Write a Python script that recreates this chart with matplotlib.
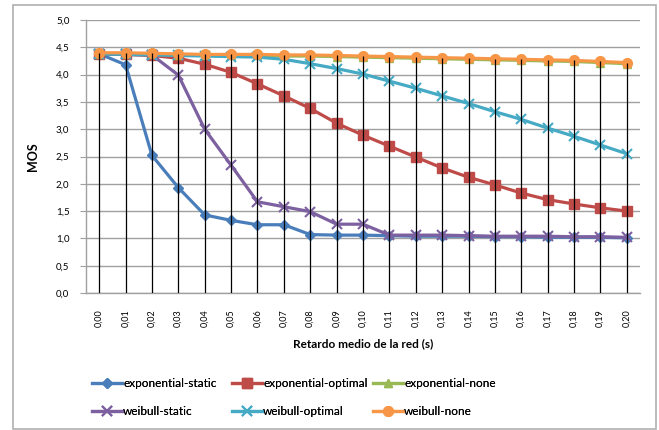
import numpy as np
import matplotlib
matplotlib.use("Agg")
import matplotlib.pyplot as plt
from matplotlib.patches import Rectangle
from matplotlib.ticker import FuncFormatter

plt.rcParams["font.family"] = ["Lato", "DejaVu Sans"]

delays = ["0,00", "0,01", "0,02", "0,03", "0,04", "0,05", "0,06", "0,07", "0,08", "0,09", "0,10",
          "0,11", "0,12", "0,13", "0,14", "0,15", "0,16", "0,17", "0,18", "0,19", "0,20"]

exp_static = [4.38, 4.18, 2.52, 1.93, 1.43, 1.33, 1.25, 1.25, 1.07, 1.06, 1.06,
              1.05, 1.04, 1.04, 1.04, 1.03, 1.03, 1.02, 1.02, 1.02, 1.01]
exp_optimal = [4.38, 4.37, 4.35, 4.30, 4.19, 4.04, 3.83, 3.61, 3.38, 3.11, 2.89,
               2.69, 2.49, 2.29, 2.12, 1.98, 1.83, 1.71, 1.63, 1.56, 1.50]
exp_none = [4.38, 4.38, 4.37, 4.36, 4.35, 4.35, 4.35, 4.34, 4.34, 4.33, 4.32,
            4.31, 4.30, 4.29, 4.28, 4.27, 4.26, 4.25, 4.24, 4.22, 4.20]
wei_static = [4.38, 4.37, 4.36, 3.99, 3.00, 2.34, 1.67, 1.58, 1.49, 1.26, 1.26,
              1.06, 1.06, 1.06, 1.05, 1.04, 1.04, 1.04, 1.03, 1.03, 1.02]
wei_optimal = [4.38, 4.37, 4.36, 4.35, 4.34, 4.33, 4.32, 4.28, 4.20, 4.11, 4.01,
               3.88, 3.75, 3.61, 3.47, 3.32, 3.18, 3.02, 2.87, 2.71, 2.55]
wei_none = [4.40, 4.40, 4.39, 4.38, 4.37, 4.37, 4.37, 4.36, 4.36, 4.35, 4.34,
            4.33, 4.32, 4.31, 4.30, 4.29, 4.28, 4.27, 4.26, 4.24, 4.22]

series = [
    ("exponential-static", exp_static, "#4a7ebb", "D", 5),
    ("exponential-optimal", exp_optimal, "#be4b48", "s", 7),
    ("exponential-none", exp_none, "#98b954", "^", 6),
    ("weibull-static", wei_static, "#7d60a0", "x", 7),
    ("weibull-optimal", wei_optimal, "#46aac5", "x", 7),
    ("weibull-none", wei_none, "#f79646", "o", 7),
]

fig = plt.figure(figsize=(6.59, 4.30), dpi=100)
fig.patches.append(Rectangle((13 / 659, 1 / 430), 643 / 659, 424 / 430, transform=fig.transFigure,
                             fill=False, edgecolor="#b0b0b0", linewidth=1.2, zorder=0))

ax = fig.add_axes([86 / 659, 1 - 293 / 430, 554 / 659, 273 / 430])
x = np.arange(len(delays))

handles = {}
for name, vals, color, marker, ms in series:
    mew = 1.5 if marker == "x" else 1
    h, = ax.plot(x, vals, color=color, linewidth=2.3, marker=marker, markersize=ms,
                 markeredgewidth=mew, markeredgecolor=color, markerfacecolor=color, label=name, zorder=3)
    handles[name] = h

# drop lines from the highest point down to the axis
top = np.max(np.array([s[1] for s in series]), axis=0)
ax.vlines(x, 0, top, color="black", linewidth=0.9, zorder=4)

ax.set_xlim(-0.5, len(delays) - 0.5)
ax.set_ylim(0, 5)
ax.set_yticks(np.arange(0, 5.01, 0.5))
ax.yaxis.set_major_formatter(FuncFormatter(lambda v, p: f"{v:.1f}".replace(".", ",")))
ax.set_xticks(x)
ax.set_xticklabels(delays, rotation=90, fontsize=6.5)
ax.tick_params(axis="y", labelsize=7, length=4, color="#a0a0a0", pad=8)
ax.tick_params(axis="x", length=0, pad=12)
ax.grid(axis="y", color="#a0a0a0", linewidth=1)
ax.set_axisbelow(True)
for s in ["top", "right"]:
    ax.spines[s].set_visible(False)
for s in ["left", "bottom"]:
    ax.spines[s].set_color("#a0a0a0")
    ax.spines[s].set_linewidth(1)

ax.set_ylabel("MOS", fontsize=9, fontweight="bold", labelpad=12)
ax.set_xlabel("Retardo medio de la red (s)", fontsize=8.5, fontweight="bold", labelpad=8)

# one legend per column, placed like the original
columns = [(["exponential-static", "weibull-static"], 92),
           (["exponential-optimal", "weibull-optimal"], 232),
           (["exponential-none", "weibull-none"], 373)]
for names, px in columns:
    leg = fig.legend([handles[n] for n in names], names, loc="upper left",
                     bbox_to_anchor=(px / 659, 1 - 378 / 430), frameon=False, fontsize=8.5,
                     handlelength=2.5, handletextpad=0.15, labelspacing=1.45,
                     borderaxespad=0, borderpad=0)
    fig.add_artist(leg)

fig.savefig("out.png", dpi=100)
